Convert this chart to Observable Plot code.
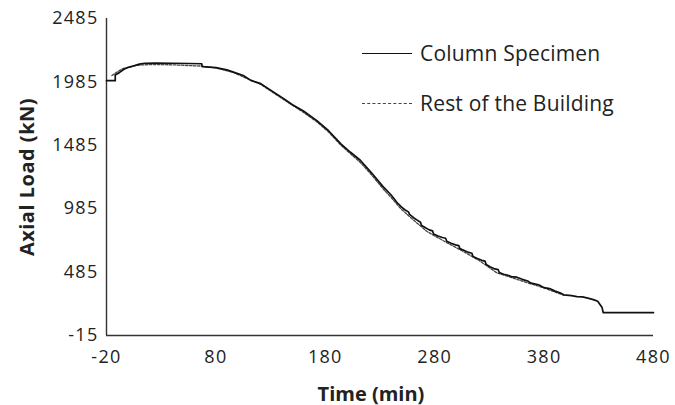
<!DOCTYPE html>
<html>
<head>
<meta charset="utf-8">
<script src="https://cdn.jsdelivr.net/npm/d3@7"></script>
<script src="https://cdn.jsdelivr.net/npm/@observablehq/plot@0.6"></script>
<style>
  html, body { margin: 0; padding: 0; background: #fff; }
  #wrap { position: relative; width: 675px; height: 405px; font-family: "Open Sans", sans-serif; color: #222; }
  #wrap svg { position: absolute; left: 0; top: 0; }
  .title { position: absolute; font-weight: bold; color: #222; white-space: nowrap; }
  #ytitle { font-size: 20px; letter-spacing: 0.5px; left: 26px; top: 177px; transform: translate(-50%, -50%) rotate(-90deg); }
  #xtitle { font-size: 20px; left: 371px; top: 393px; transform: translate(-50%, -50%); }
  .leg { position: absolute; left: 362px; display: flex; align-items: center; font-size: 21px; letter-spacing: 0.2px; color: #222; white-space: nowrap; }
  .sw { width: 50px; height: 0; margin-right: 8px; }
  #leg1 { top: 39px; }
  #leg2 { top: 89px; }
</style>
</head>
<body>
<div id="wrap"></div>
<script>
// ---- data ----
const seriesNames = ["Column Specimen", "Rest of the Building"];
const xTicks = [-20, 80, 180, 280, 380, 480];
const yTicks = [-15, 485, 985, 1485, 1985, 2485];
const xLabel = "Time (min)";
const yLabel = "Axial Load (kN)";

// Column Specimen (solid)
const colTime = [-20, -12, -12, -8, -4, 0, 5, 10, 15, 25, 40, 55, 67, 67.5, 80, 90, 96, 105, 112, 121, 130, 142, 150, 160, 172, 183, 194, 203, 212, 222, 233, 240,
  245, 246, 250, 253, 256, 257, 261, 264, 267, 268, 272, 275, 278, 279, 283, 287, 290, 291, 295, 299, 302, 303, 307, 311, 314, 315, 319, 323, 326, 327, 331, 335, 338, 339, 343, 347, 350,
  355, 360, 365, 368, 375, 380, 385, 390, 395, 398, 405, 410, 415, 420, 425, 429, 433, 434, 480];
const colLoad = [1995, 1995, 2040, 2060, 2085, 2100, 2112, 2125, 2132, 2134, 2132, 2130, 2128, 2105, 2098, 2080, 2062, 2035, 1997, 1971, 1920, 1853, 1805, 1755, 1682, 1600, 1498, 1430, 1367, 1270, 1157, 1095,
  1040, 1030, 995, 975, 960, 940, 912, 895, 878, 852, 832, 818, 810, 785, 770, 758, 752, 728, 712, 700, 694, 670, 655, 640, 634, 608, 592, 578, 572, 546, 525, 510, 505, 482, 468, 460, 450,
  445, 428, 415, 398, 385, 362, 355, 335, 320, 306, 300, 292, 290, 280, 268, 255, 205, 166, 166];

// Rest of the Building (dashed)
const restTime = [-15, -10, -5, 0, 10, 20, 40, 60, 67, 80, 96, 110, 121, 142, 160, 172, 183, 194, 203, 212, 222, 233, 240, 249, 260, 273, 290, 306, 320, 337, 350, 368, 380, 398];
const restLoad = [2035, 2065, 2090, 2100, 2118, 2122, 2120, 2112, 2110, 2095, 2060, 2005, 1965, 1845, 1745, 1672, 1590, 1488, 1418, 1350, 1255, 1140, 1075, 985, 900, 805, 722, 648, 580, 478, 443, 392, 360, 302];

const colData = colTime.map((t, i) => ({t, v: colLoad[i]}));
const restData = restTime.map((t, i) => ({t, v: restLoad[i]}));
const xDomain = [xTicks[0], xTicks[xTicks.length - 1]];
const yDomain = [yTicks[0], yTicks[yTicks.length - 1]];

const chart = Plot.plot({
  width: 675,
  height: 405,
  marginLeft: 106,
  marginRight: 22,
  marginTop: 18,
  marginBottom: 70,
  style: {fontFamily: "'Open Sans', sans-serif", fontSize: "18px", letterSpacing: "1.3px", color: "#222", background: "transparent"},
  x: {domain: xDomain},
  y: {domain: yDomain},
  marks: [
    Plot.axisY({ticks: yTicks, tickSize: 0, tickPadding: 8, label: null, tickFormat: d => String(d), fill: "#222"}),
    Plot.axisX({ticks: xTicks, tickSize: 0, tickPadding: 15, label: null, tickFormat: d => String(d), fill: "#222"}),
    Plot.ruleY([yDomain[0]], {stroke: "#333", strokeWidth: 1.6}),
    Plot.ruleX([xDomain[0]], {stroke: "#333", strokeWidth: 1.4}),
    Plot.line(restData, {x: "t", y: "v", stroke: "#444", strokeWidth: 1.3, strokeDasharray: "2.5,1.5"}),
    Plot.line(colData, {x: "t", y: "v", stroke: "#111", strokeWidth: 1.7})
  ]
});

const wrap = document.getElementById("wrap");
wrap.appendChild(chart);

const yt = document.createElement("div");
yt.className = "title"; yt.id = "ytitle"; yt.textContent = yLabel;
wrap.appendChild(yt);
const xt = document.createElement("div");
xt.className = "title"; xt.id = "xtitle"; xt.textContent = xLabel;
wrap.appendChild(xt);

const styles = ["1.6px solid #111", "1.3px dashed #444"];
seriesNames.forEach((name, i) => {
  const row = document.createElement("div");
  row.className = "leg"; row.id = "leg" + (i + 1);
  const sw = document.createElement("div");
  sw.className = "sw"; sw.style.borderTop = styles[i];
  const tx = document.createElement("span");
  tx.textContent = name;
  row.appendChild(sw); row.appendChild(tx);
  wrap.appendChild(row);
});
</script>
</body>
</html>
